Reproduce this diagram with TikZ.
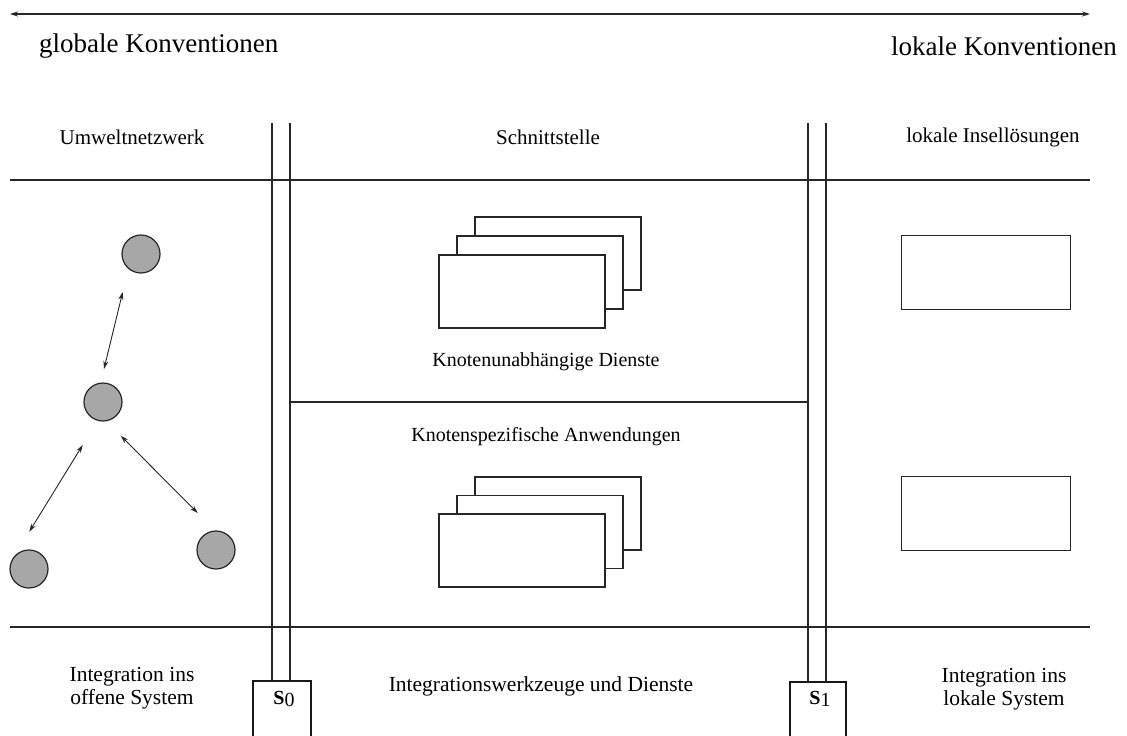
\documentclass[tikz,border=0pt]{standalone}
\usepackage{fontspec}
\setmainfont{Liberation Serif}
\usetikzlibrary{arrows.meta,calc}
\begin{document}
\begin{tikzpicture}[x=1pt,y=-1pt,
  rule/.style={draw=black!85, line width=1.1pt},
  biglabel/.style={font=\fontsize{27}{30}\selectfont, inner sep=0pt},
  headlabel/.style={font=\fontsize{21}{24}\selectfont, inner sep=0pt, align=center},
  midlabel/.style={font=\fontsize{20}{23}\selectfont, inner sep=0pt, align=center},
  footlabel/.style={font=\fontsize{21.5}{23.5}\selectfont, inner sep=0pt, align=center},
  card/.style={draw=black!85, fill=white, line width=1.1pt, minimum width=166pt, minimum height=73pt, inner sep=0pt},
  ball/.style={circle, draw=black!85, fill=gray!85!black!60, minimum size=38pt, inner sep=0pt, line width=1.2pt},
  link/.style={draw=black!85, line width=0.9pt,
    {Stealth[length=8pt,width=5pt]}-{Stealth[length=8pt,width=5pt]}},
  sbox/.style={draw=black!90, line width=1.4pt, fill=white},
  slabel/.style={font=\fontsize{20}{23}\selectfont, inner sep=0pt}
]
\useasboundingbox (0,0) rectangle (1127,736);

% scale arrow: global versus local conventions
\coordinate (arrL) at (10,14);
\coordinate (arrR) at (1090,14);
\draw[rule, {Stealth[length=8pt,width=5pt]}-{Stealth[length=8pt,width=5pt]}] (arrL) -- (arrR);
\node[biglabel, anchor=west] (glob) at (39,46) {globale Konventionen};
\node[biglabel, anchor=east] (lok) at (1117,46) {lokale Konventionen};

% column headings
\node[headlabel] (h1) at (132,137) {Umweltnetzwerk};
\node[headlabel] (h2) at (548,137) {Schnittstelle};
\node[headlabel] (h3) at (993,137) {lokale Insellösungen};

% horizontal rules
\coordinate (t1) at (10,180);  \coordinate (t2) at (1090,180);
\coordinate (b1) at (10,627);  \coordinate (b2) at (1090,627);
\coordinate (m1) at (290,402); \coordinate (m2) at (808,402);
\draw[rule] (t1) -- (t2);
\draw[rule] (b1) -- (b2);
\draw[rule] (m1) -- (m2);

% double separator lines ending in the S boxes
\foreach \x/\n in {272/a,290/b,808/c,826/d}{
  \coordinate (v\n top) at (\x,123);
  \coordinate (v\n bot) at (\x,681);
  \draw[rule] (v\n top) -- (v\n bot);
}
\draw[sbox] (253,745) -- (253,681) -- (311,681) -- (311,745);
\draw[sbox] (790,745) -- (790,682) -- (846,682) -- (846,745);
\node[slabel] (s0) at (284,699) {\textbf{S}\raisebox{-2pt}{0}};
\node[slabel] (s1) at (820,699) {\textbf{S}\raisebox{-2pt}{1}};

% network of nodes
\node[ball] (n1) at (141,254) {};
\node[ball] (n2) at (103,402) {};
\node[ball] (n3) at (29,569) {};
\node[ball] (n4) at (216,550) {};
\draw[link] ($(n1)+(-18.3,38)$) -- ($(n2)+(1,-33)$);
\draw[link] ($(n2)+(-20.3,43)$) -- ($(n3)+(0.3,-37.3)$);
\draw[link] ($(n2)+(17.7,33.7)$) -- ($(n4)+(-18.3,-37)$);

% stacked service cards
\foreach \k in {2,1,0}{
  \node[card] (ua\k) at ({522+18*\k},{291.5-19*\k}) {};
}
\foreach \k in {2,1,0}{
  \node[card] (ub\k) at ({522+18*\k},{550.5-18.5*\k}) {};
}
\node[midlabel] (dienste) at (546,362) {Knotenunabhängige Dienste};
\node[midlabel] (anw) at (546,437) {Knotenspezifische Anwendungen};

% local island solutions
\node[card, minimum width=169pt, minimum height=74pt] (loc1) at (986,272.5) {};
\node[card, minimum width=169pt, minimum height=74pt] (loc2) at (986,513.5) {};

% bottom row
\node[footlabel] (int1) at (132,688) {Integration ins\\offene System};
\node[footlabel] (int2) at (541,686) {Integrationswerkzeuge und Dienste};
\node[footlabel] (int3) at (1004,689) {Integration ins\\lokale System};
\end{tikzpicture}
\end{document}
